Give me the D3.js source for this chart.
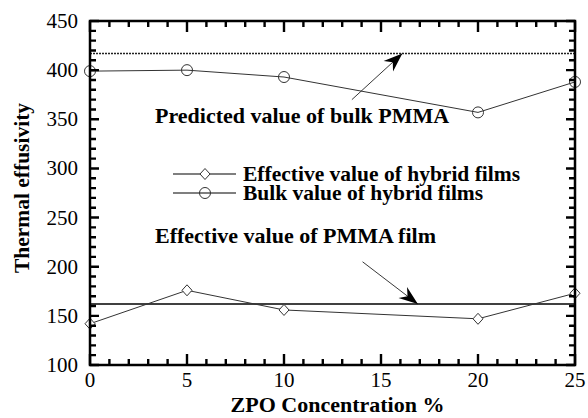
<!DOCTYPE html>
<html>
<head>
<meta charset="utf-8">
<script src="https://cdn.jsdelivr.net/npm/d3@7"></script>
<style>
  html, body { margin: 0; padding: 0; background: #fff; }
  svg text { font-family: "Liberation Serif", "Times New Roman", serif; fill: #000; }
</style>
</head>
<body>
<svg id="chart" width="588" height="418"></svg>
<script>
// ZPO concentration (%) of the hybrid films
const concentration = [0, 5, 10, 20, 25];
// Thermal effusivity values
const effectiveHybrid = [142, 176, 156, 147, 173];
const bulkHybrid = [399, 400, 393, 357, 388];
// Reference levels for PMMA
const pmmaFilmEffective = 162;
const pmmaBulkPredicted = 417;
// Axis ticks
const xTicks = [0, 5, 10, 15, 20, 25];
const yTicks = [100, 150, 200, 250, 300, 350, 400, 450];

// Annotations (data units): label position, arrow tail and arrow tip
const annotations = [
  { text: "Predicted value of bulk PMMA", tx: 3.35, ty: 346, x1: 13.5, y1: 370, x2: 16.1, y2: pmmaBulkPredicted },
  { text: "Effective value of PMMA film", tx: 3.35, ty: 224, x1: 14.05, y1: 205, x2: 16.9, y2: pmmaFilmEffective }
];
const legendLabels = ["Effective value of hybrid films", "Bulk value of hybrid films"];

const svg = d3.select("#chart");
const plotLeft = 90, plotRight = 575, plotTop = 21, plotBottom = 365;

const x = d3.scaleLinear().domain([0, 25]).range([plotLeft, plotRight]);
const y = d3.scaleLinear().domain([100, 450]).range([plotBottom, plotTop]);

// Reference lines
svg.append("line")
  .attr("x1", x(0)).attr("x2", x(25))
  .attr("y1", y(pmmaBulkPredicted)).attr("y2", y(pmmaBulkPredicted))
  .attr("stroke", "#222").attr("stroke-width", 1.4).attr("stroke-dasharray", "2,1");
svg.append("line")
  .attr("x1", x(0)).attr("x2", x(25))
  .attr("y1", y(pmmaFilmEffective)).attr("y2", y(pmmaFilmEffective))
  .attr("stroke", "#000").attr("stroke-width", 1.6);

// Data series
const line = d3.line().x(d => x(d[0])).y(d => y(d[1]));
const effPts = concentration.map((c, i) => [c, effectiveHybrid[i]]);
const bulkPts = concentration.map((c, i) => [c, bulkHybrid[i]]);

svg.append("path").datum(effPts).attr("d", line)
  .attr("fill", "none").attr("stroke", "#333").attr("stroke-width", 1);
svg.append("path").datum(bulkPts).attr("d", line)
  .attr("fill", "none").attr("stroke", "#333").attr("stroke-width", 1);

function drawDiamond(g, cx, cy) {
  g.append("path").attr("d", "M0,-5.5L5,0L0,5.5L-5,0Z")
    .attr("transform", `translate(${cx},${cy})`)
    .attr("fill", "#fff").attr("stroke", "#333").attr("stroke-width", 1);
}
function drawCircle(g, cx, cy) {
  g.append("circle").attr("cx", cx).attr("cy", cy).attr("r", 5.5)
    .attr("fill", "none").attr("stroke", "#333").attr("stroke-width", 1);
}
const marks = svg.append("g");
effPts.forEach(d => drawDiamond(marks, x(d[0]), y(d[1])));
bulkPts.forEach(d => drawCircle(marks, x(d[0]), y(d[1])));

// Frame
svg.append("rect").attr("x", plotLeft).attr("y", plotTop)
  .attr("width", plotRight - plotLeft).attr("height", plotBottom - plotTop)
  .attr("fill", "none").attr("stroke", "#000").attr("stroke-width", 2.5);

// Inward ticks on all four sides, built as one path
const xMinor = d3.range(0, 25.01, 1).filter(v => !xTicks.includes(v));
const yMinor = d3.range(100, 450.01, 10).filter(v => !yTicks.includes(v));
const tickPath = d3.path();
function addXTicks(values, len) {
  values.forEach(v => {
    tickPath.moveTo(x(v), plotBottom); tickPath.lineTo(x(v), plotBottom - len);
    tickPath.moveTo(x(v), plotTop); tickPath.lineTo(x(v), plotTop + len);
  });
}
function addYTicks(values, len) {
  values.forEach(v => {
    tickPath.moveTo(plotLeft, y(v)); tickPath.lineTo(plotLeft + len, y(v));
    tickPath.moveTo(plotRight, y(v)); tickPath.lineTo(plotRight - len, y(v));
  });
}
addXTicks(xTicks, 11);
addXTicks(xMinor, 6);
addYTicks(yTicks, 9);
addYTicks(yMinor, 6);
svg.append("path").attr("d", tickPath.toString())
  .attr("fill", "none").attr("stroke", "#000").attr("stroke-width", 2.4);

// Tick labels
svg.append("g").selectAll("text").data(xTicks).join("text")
  .attr("x", d => x(d)).attr("y", 387)
  .attr("text-anchor", "middle").attr("font-size", 21)
  .text(d => d);
svg.append("g").selectAll("text").data(yTicks).join("text")
  .attr("x", plotLeft - 12).attr("y", d => y(d) + 7)
  .attr("text-anchor", "end").attr("font-size", 21)
  .text(d => d);

// Axis titles
svg.append("text").attr("x", (plotLeft + plotRight) / 2 + 5).attr("y", 412)
  .attr("text-anchor", "middle").attr("font-weight", "bold").attr("font-size", 22)
  .text("ZPO Concentration %");
svg.append("text").attr("transform", "translate(29,188) rotate(-90)")
  .attr("text-anchor", "middle").attr("font-weight", "bold").attr("font-size", 21.5)
  .text("Thermal effusivity");

// Annotations with barbed arrows
annotations.forEach(a => {
  svg.append("text").attr("x", x(a.tx)).attr("y", y(a.ty))
    .attr("font-weight", "bold").attr("font-size", 22).text(a.text);
  const X1 = x(a.x1), Y1 = y(a.y1), X2 = x(a.x2), Y2 = y(a.y2);
  const ang = Math.atan2(Y2 - Y1, X2 - X1) * 180 / Math.PI;
  svg.append("line").attr("x1", X1).attr("y1", Y1).attr("x2", X2).attr("y2", Y2)
    .attr("stroke", "#222").attr("stroke-width", 0.9);
  svg.append("path").attr("d", "M0,0L-19,-7L-13,0L-19,7Z")
    .attr("transform", `translate(${X2},${Y2}) rotate(${ang})`)
    .attr("fill", "#000");
});

// Legend
const legend = svg.append("g");
legendLabels.forEach((lab, i) => {
  const ly = 174 + i * 19;
  legend.append("line").attr("x1", 173).attr("x2", 236).attr("y1", ly).attr("y2", ly)
    .attr("stroke", "#000").attr("stroke-width", 1.2);
  if (i === 0) drawDiamond(legend, 205, ly); else drawCircle(legend, 205, ly);
  legend.append("text").attr("x", 243).attr("y", ly + 7)
    .attr("font-weight", "bold").attr("font-size", 21.5).text(lab);
});
</script>
</body>
</html>
